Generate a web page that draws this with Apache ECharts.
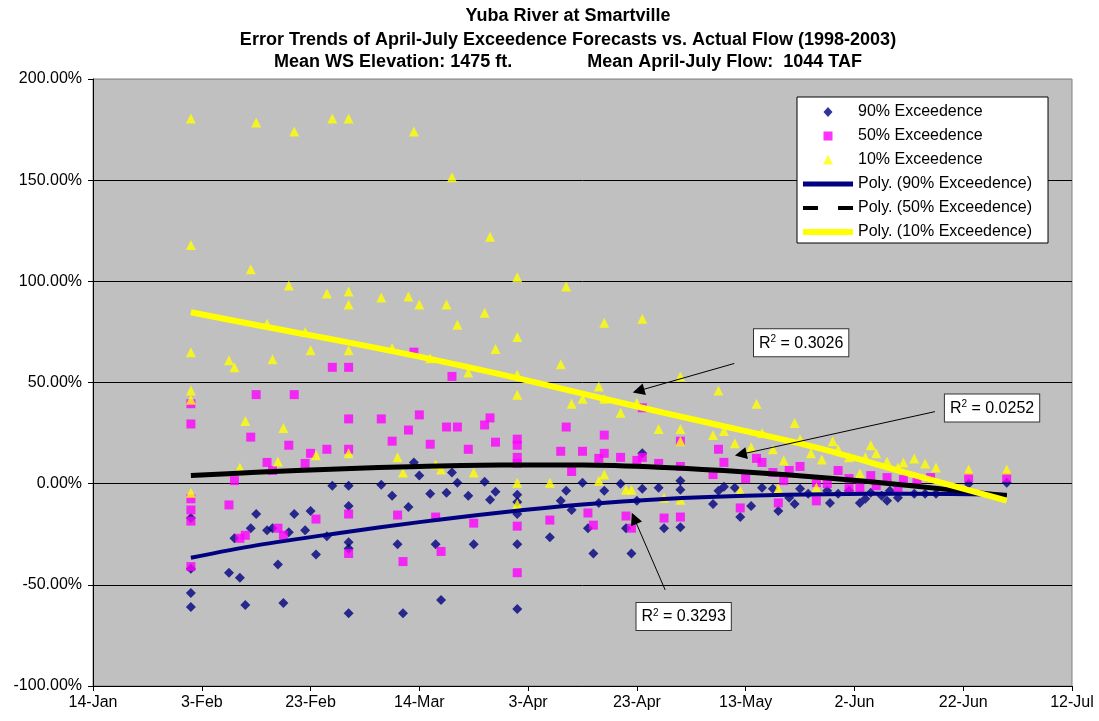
<!DOCTYPE html>
<html><head><meta charset="utf-8">
<script src="https://cdn.jsdelivr.net/npm/echarts@6/dist/echarts.min.js"></script>
<style>html,body{margin:0;padding:0;background:#fff}#c{width:1099px;height:721px}</style>
</head><body><div id="c"></div>
<script>
// x = days after 14-Jan, y = error in percent
const tickLabels = ['14-Jan','3-Feb','23-Feb','14-Mar','3-Apr','23-Apr','13-May','2-Jun','22-Jun','12-Jul'];
const titleLines = [
  'Yuba River at Smartville',
  'Error Trends of April-July Exceedence Forecasts vs. Actual Flow (1998-2003)',
  'Mean WS Elevation: 1475 ft.               Mean April-July Flow:  1044 TAF'
];
const seriesNames = ['90% Exceedence','50% Exceedence','10% Exceedence',
  'Poly. (90% Exceedence)','Poly. (50% Exceedence)','Poly. (10% Exceedence)'];

const p90 = [[18,-17],[18,-42],[18,-54],[18,-61],[25,-44],[26,-27],[27,-46.5],[28,-60],[29,-22],[30,-15],[32,-23],[33,-22],[34,-40],[35,-59],[36,-24],[37,-15],[39,-23],[40,-13.5],[41,-35],[43,-26],[44,-1],[47,-1],[47,-11],[47,-29],[47,-32],[47,-64],[53,-0.5],[55,-6],
[56,-30],[57,-64],[58,-11.5],[59,10.5],[60,4],[62,-5],[63,-30],[64,-57.5],[65,-4.5],[66,5.5],[67,0.5],[69,-6],[70,-30],[72,1],[73,-8],[74,-4],[78,-5.5],[78,-9],[78,-15],[78,-30],[78,-62],[84,-26.5],[86,-8.5],[87,-3.5],[88,-13],[90,0.5],[91,-22],[92,-34.5],[93,-9.5],[94,-3.5],[97,0],[98,-22],[99,-34.5],[100,-8.5],[101,15],[101,-2.5],[104,-2],[105,-22],[108,1.5],[108,-3],[108,-21.5],[114,-10],[115,-3.5],[116,-1.5],[118,-2],[119,-16.5],[121,-11],[123,-2],[125,-2.5],[126,-13.5],[128,-7],[129,-10],[130,-2.5],[131.5,-5],[135,-3.5],[135.5,-9.5],[137,-5],[139,-3.5],[141,-9.5],[142,-7.5],[143,-4.5],[145,-6],[146,-8.5],[146.5,-3.5],[148,-7],[151,-5],[153,-5],[155,-5],[161,0],[168,0.5]];

const p50 = [[18,39.5],[18,29.5],[18,-7.5],[18,-13],[18,-18.5],[18,-41],[25,-10.5],[26,1.5],[27,-27],[28,-25.5],[29,23],[30,44],[32,10.5],[33,6.5],[34,-22],[35,-25.5],[36,19],[37,44],[39,10],[40,15],[41,-17.5],[43,17],[44,57.5],[47,57.5],[47,32],[47,17],[47,-15],[47,-34.5],[53,32],[55,21],[56,-15.5],[57,-38.5],[58,26.5],[59,65],[60,34],[62,19.5],[63,-16.5],[64,-33.5],[65,28],[66,53],[67,28],[69,17],[70,-19.5],[72,29],[73,32.5],[74,20.5],[78,22],[78,19],[78,13],[78,10],[78,-21],[78,-44],[84,-18],[86,16],[87,28],[88,6],[90,16],[91,-14.5],[92,-20.5],[93,12.5],[94,24],[94,15],[97,13],[98,-16],[99,-22],[100,11.5],[101,37.5],[101,13],[104,10],[105,-17],[108,21],[108,8.5],[108,-16.5],[114,4.5],[115,17],[116,10.5],[119,-12],[120,2.5],[122,12.5],[123,10.5],[125,5.5],[126,-9.5],[127,1.5],[128,6.5],[130,8.5],[133,0.5],[133,-8.5],[135,0],[137,6.5],[139,2.5],[139,-2.5],[141,-2],[143,4],[144,-1],[146,3],[148,-2],[149,2],[151.5,2],[154,3],[161,3],[168,3]];

const p10 = [[18,180.5],[18,118],[18,65],[18,46],[18,41.5],[18,-4.5],[25,61],[26,57.5],[27,8],[28,31],[29,106],[30,178.5],[32,79],[33,61.5],[34,11],[35,27.5],[36,98],[37,174],[39,75],[40,66],[41,14],[43,94],[44,180.5],[47,180.5],[47,95],[47,88.5],[47,66],[47,15],[53,92],[55,67],[56,13],[57,5.5],[58,92.5],[59,174],[60,88.5],[62,62],[63,9.5],[64,7],[65,88.5],[66,151.5],[67,78.5],[69,55],[70,5.5],[72,84.5],[73,122],[74,66.5],[78,102],[78,72.5],[78,54],[78,44],[78,0.5],[78,-10],[84,0.5],[86,59],[87,97.5],[88,39.5],[90,42],[93,48],[93,1.5],[94,79.5],[94,42],[94,4.5],[97,35],[98,-3],[99,-3],[100,40],[101,81.5],[104,27],[105,-7],[108,53],[108,27],[108,21],[108,-8],[114,24],[115,46],[116,26],[118,20],[119,-3.5],[121,18],[122,39.5],[123,25],[125,17],[126,-2.5],[127,11.5],[129,30],[130,22],[132,15],[133,-2],[134,12],[136,21],[137,17],[139,13],[141,5],[142,13],[143,19],[144,15],[146,11],[148,8],[149,10.5],[151,12.5],[153,10],[155,8],[161,7],[168,7]];

// trendlines
const trend90 = [[18,-36.6],[30,-30.5],[45,-24.5],[60,-19],[75,-14.2],[90,-10.3],[105,-7.6],[120,-6],[135,-5.2],[150,-5],[168,-5.5]];
const trend50 = [[18,4],[30,5.6],[45,7.3],[60,8.5],[75,9.2],[90,9.2],[105,8],[120,5.8],[135,2.8],[150,-0.9],[168,-6]];
const trend10 = [[18,84.7],[30,78.4],[45,70.8],[60,62.8],[75,54],[90,44.5],[105,35],[120,26],[135,16.5],[150,5],[168,-8.4]];

const r2Values = ['0.3026','0.0252','0.3293'];
const r2Anchors = [[130.2,69.6],[165.3,37.4],[108.6,-65.6]];
const arrowLines = [
  [[117.9,59.4],[100.3,45.9]],
  [[154.8,35.6],[119.1,14.5]],
  [[105.2,-52.5],[99.5,-17.1]]
];

const FONT = "'Liberation Sans', Arial, sans-serif";
const chart = echarts.init(document.getElementById('c'), null, {renderer:'canvas'});

// legend icons: fixed 50x11 bounding box so nothing is stretched
const BOX = 'M0,0M50,11';
const legendIcons = [
  'path://' + BOX + 'M25,0.5L29.5,5.5L25,10.5L20.5,5.5Z',
  'path://' + BOX + 'M20.5,1H29.5V10H20.5Z',
  'path://' + BOX + 'M25,0.5L30,10H20Z',
  'path://' + BOX + 'M0,3H50V8H0Z',
  'path://' + BOX + 'M0,3.5H15V7.5H0ZM35,3.5H50V7.5H35Z',
  'path://' + BOX + 'M0,2.5H50V8.5H0Z'
];

const titleY = [16, 40, 62];
const option = {
  animation: false,
  backgroundColor: '#fff',
  graphic: titleLines.map((t,i) => ({
    type: 'text', x: 568, y: titleY[i],
    style: {text: t, fill: '#000', font: 'bold 18px ' + FONT, align: 'center', verticalAlign: 'middle'}
  })),
  grid: {left: 93, right: 27, top: 79, bottom: 35, show: true, backgroundColor: '#C0C0C0', borderColor: '#808080', borderWidth: 1},
  legend: {
    orient: 'vertical', left: 797, top: 97,
    padding: [7, 16, 3, 6],
    backgroundColor: '#fff', borderColor: '#000', borderWidth: 1,
    itemWidth: 50, itemHeight: 11, itemGap: 8,
    symbolKeepAspect: true,
    textStyle: {fontSize: 16, fontFamily: FONT, color: '#000', lineHeight: 16},
    data: seriesNames.map((n, i) => ({name: n, icon: legendIcons[i], itemStyle: {borderWidth: 0}}))
  },
  xAxis: {
    type: 'value', min: 0, max: 180, interval: 20,
    axisLine: {show: true, onZero: false, lineStyle: {color: '#000', width: 1}},
    axisTick: {show: true, inside: false, length: 5, lineStyle: {color: '#000'}},
    axisLabel: {fontSize: 16, fontFamily: FONT, color: '#000', margin: 9,
      formatter: v => tickLabels[Math.round(v / 20)] || ''},
    splitLine: {show: false}
  },
  yAxis: {
    type: 'value', min: -100, max: 200, interval: 50,
    axisLine: {show: true, onZero: false, lineStyle: {color: '#000', width: 1}},
    axisTick: {show: true, inside: false, length: 5, lineStyle: {color: '#000'}},
    axisLabel: {fontSize: 16, fontFamily: FONT, color: '#000', margin: 11,
      formatter: v => v.toFixed(2) + '%'},
    splitLine: {show: true, lineStyle: {color: ['#000','#000','#000','#000','#000','#000','#999'], width: 1}}
  },
  series: [
    {name: seriesNames[0], type: 'scatter', symbol: 'diamond', symbolSize: 10, data: p90, itemStyle: {color: '#000080'}},
    {name: seriesNames[1], type: 'scatter', symbol: 'rect', symbolSize: 9, data: p50, itemStyle: {color: '#FF00FF'}},
    {name: seriesNames[2], type: 'scatter', symbol: 'triangle', symbolSize: 10, data: p10, itemStyle: {color: '#FFFF00'}},
    {name: seriesNames[3], type: 'line', symbol: 'none', showSymbol: false, smooth: 0.3, data: trend90, lineStyle: {color: '#000080', width: 4}, itemStyle: {color: '#000080'}},
    {name: seriesNames[4], type: 'line', symbol: 'none', showSymbol: false, smooth: 0.3, data: trend50, lineStyle: {color: '#000', width: 5}, itemStyle: {color: '#000'}},
    {name: seriesNames[5], type: 'line', symbol: 'none', showSymbol: false, smooth: 0.3, data: trend10, lineStyle: {color: '#FFFF00', width: 6}, itemStyle: {color: '#FFFF00'}},
    {
      name: 'annotations', type: 'line', data: [], z: 5,
      markLine: {
        silent: true, animation: false,
        symbol: ['none', 'triangle'], symbolSize: 12,
        lineStyle: {color: '#000', width: 1, type: 'solid'},
        label: {show: false},
        data: arrowLines.map(a => [{coord: a[0]}, {coord: a[1]}])
      },
      markPoint: {
        silent: true, animation: false,
        symbol: 'rect', symbolSize: 1, itemStyle: {color: 'rgba(0,0,0,0)'},
        label: {
          show: true, position: 'inside', color: '#000', fontSize: 16, fontFamily: FONT,
          backgroundColor: '#fff', borderColor: '#333', borderWidth: 1, padding: [5, 5, 4, 5],
          formatter: p => 'R{sup|2} = ' + p.name,
          rich: {sup: {fontSize: 10, fontFamily: FONT, color: '#000', padding: [0, 0, 8, 0]}}
        },
        data: r2Values.map((v, i) => ({name: v, coord: r2Anchors[i]}))
      }
    }
  ]
};
chart.setOption(option);
</script>
</body></html>
